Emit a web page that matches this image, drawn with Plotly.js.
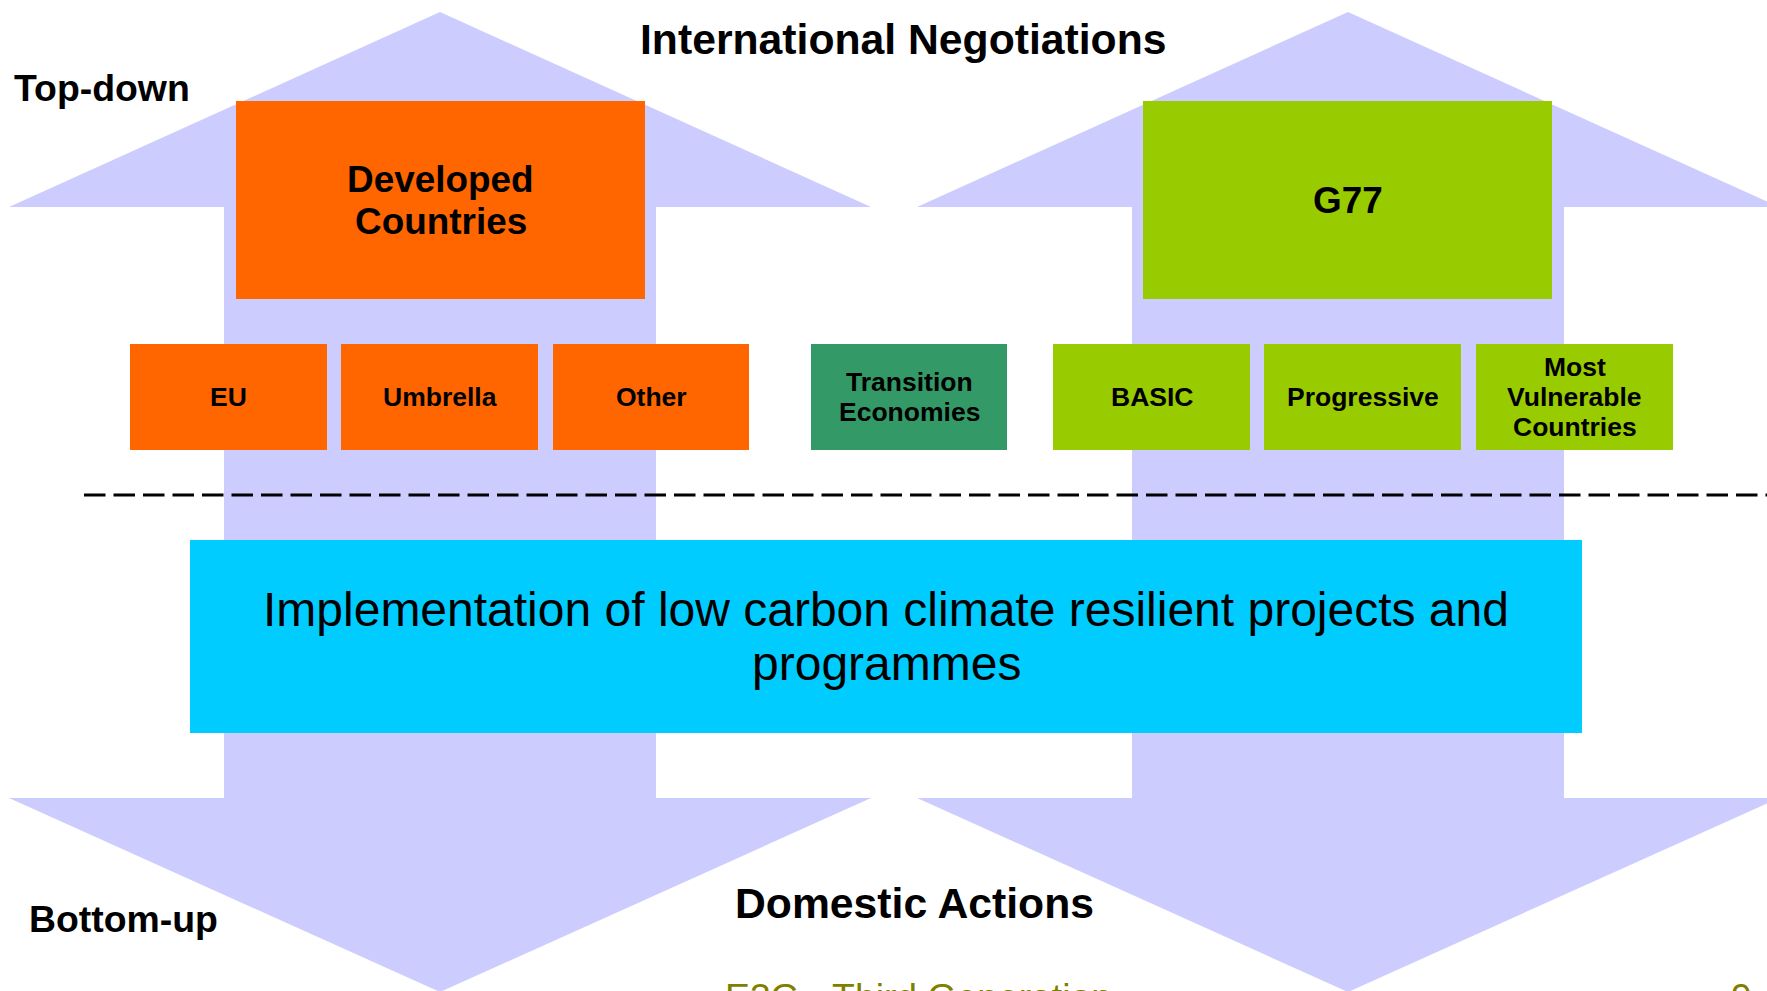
<!DOCTYPE html>
<html>
<head>
<meta charset="utf-8">
<script src="https://cdn.plot.ly/plotly-3.0.1.min.js"></script>
<style>html,body{margin:0;padding:0;background:#fff;overflow:hidden}#chart{width:1767px;height:991px}</style>
</head>
<body>
<div id="chart"></div>
<script>
// ---- content (text / categories) ----
const levelLabels = ['International Negotiations', 'Domestic Actions'];
const directionLabels = ['Top-down', 'Bottom-up'];
const topGroups = [['Developed', 'Countries'], ['G77']];
const topGroupFamily = ['developed', 'g77'];
const subGroups = [['EU'], ['Umbrella'], ['Other'], ['Transition', 'Economies'], ['BASIC'], ['Progressive'], ['Most', 'Vulnerable', 'Countries']];
const subGroupFamily = ['developed', 'developed', 'developed', 'transition', 'g77', 'g77', 'g77'];
const centreText = ['Implementation of low carbon climate resilient projects and', 'programmes'];
const footerText = 'E3G - Third Generation';
const pageNumber = '9';

// ---- styles ----
const familyColour = {developed: '#FF6600', g77: '#99CC00', transition: '#339966'};
const arrowColour = '#CCCCFF';
const centreColour = '#00CCFF';
const FONT = 'Liberation Sans, Arial, Helvetica, sans-serif';

// ---- geometry (layout positions) ----
const W = 1767, H = 991;
const arrowCentres = [440, 1348];
const arrowGeom = {apexTop: 12, wingTop: 207, wingBot: 798, apexBot: 992, wing: 431, shaft: 216};
const topBoxX = [[236, 645], [1143, 1552]];
const topBoxY = [101, 299];
const subBoxX = [[130, 327], [341, 538], [553, 749], [811, 1007], [1053, 1250], [1264, 1461], [1476, 1673]];
const subBoxY = [344, 450];
const centreBox = {x0: 190, x1: 1582, y0: 540, y1: 733};
const dashY = 495, dashX0 = 84;

const shapes = [];
const annotations = [];

// double-headed arrows
arrowCentres.forEach(cx => {
  const g = arrowGeom;
  const p = [
    [cx, g.apexTop], [cx + g.wing, g.wingTop], [cx + g.shaft, g.wingTop], [cx + g.shaft, g.wingBot],
    [cx + g.wing, g.wingBot], [cx, g.apexBot], [cx - g.wing, g.wingBot], [cx - g.shaft, g.wingBot],
    [cx - g.shaft, g.wingTop], [cx - g.wing, g.wingTop]
  ];
  shapes.push({type: 'path', xref: 'x', yref: 'y', path: 'M' + p.map(q => q[0] + ',' + q[1]).join(' L') + ' Z',
    fillcolor: arrowColour, line: {width: 0}});
});

function addLines(lines, cx, cy, size, bold, spacing, colour) {
  const n = lines.length;
  lines.forEach((t, i) => {
    annotations.push({x: cx, y: cy + (i - (n - 1) / 2) * spacing, xref: 'x', yref: 'y',
      text: bold ? '<b>' + t + '</b>' : t, showarrow: false, xanchor: 'center', yanchor: 'middle',
      borderpad: 0, font: {family: FONT, size: size, color: colour || '#000'}});
  });
}

// top group boxes
topGroups.forEach((lines, i) => {
  const [x0, x1] = topBoxX[i];
  shapes.push({type: 'rect', xref: 'x', yref: 'y', x0, x1, y0: topBoxY[0], y1: topBoxY[1],
    fillcolor: familyColour[topGroupFamily[i]], line: {width: 0}});
  addLines(lines, (x0 + x1) / 2, (topBoxY[0] + topBoxY[1]) / 2, 36.9, true, 42);
});

// sub group boxes
subGroups.forEach((lines, i) => {
  const [x0, x1] = subBoxX[i];
  shapes.push({type: 'rect', xref: 'x', yref: 'y', x0, x1, y0: subBoxY[0], y1: subBoxY[1],
    fillcolor: familyColour[subGroupFamily[i]], line: {width: 0}});
  addLines(lines, (x0 + x1) / 2, (subBoxY[0] + subBoxY[1]) / 2, 26.5, true, 30);
});

// dashed separator
shapes.push({type: 'line', xref: 'x', yref: 'y', x0: dashX0, x1: W, y0: dashY, y1: dashY,
  line: {color: '#000', width: 3, dash: '21.5px,8px'}});

// centre box
shapes.push({type: 'rect', xref: 'x', yref: 'y', x0: centreBox.x0, x1: centreBox.x1, y0: centreBox.y0, y1: centreBox.y1,
  fillcolor: centreColour, line: {width: 0}});
addLines(centreText, (centreBox.x0 + centreBox.x1) / 2, (centreBox.y0 + centreBox.y1) / 2, 48, false, 54);

// level labels
addLines([levelLabels[0]], 903, 39, 42.7, true, 0);
addLines([levelLabels[1]], 914, 903, 42.7, true, 0);

// direction labels
annotations.push({x: 13, y: 87.5, xref: 'x', yref: 'y', text: '<b>' + directionLabels[0] + '</b>', showarrow: false,
  xanchor: 'left', yanchor: 'middle', borderpad: 0, font: {family: FONT, size: 37.4, color: '#000'}});
annotations.push({x: 28, y: 919, xref: 'x', yref: 'y', text: '<b>' + directionLabels[1] + '</b>', showarrow: false,
  xanchor: 'left', yanchor: 'middle', borderpad: 0, font: {family: FONT, size: 37.4, color: '#000'}});

// footer (partly below the page edge, as in the original slide)
annotations.push({x: 724, y: 975, xref: 'x', yref: 'y', text: footerText, showarrow: false,
  xanchor: 'left', yanchor: 'top', borderpad: 0, font: {family: FONT, size: 37.3, color: '#808000'}});
annotations.push({x: 1730, y: 975, xref: 'x', yref: 'y', text: pageNumber, showarrow: false,
  xanchor: 'left', yanchor: 'top', borderpad: 0, font: {family: FONT, size: 37.3, color: '#808000'}});

const layout = {
  width: W, height: H,
  margin: {l: 0, r: 0, t: 0, b: 0, pad: 0},
  paper_bgcolor: '#fff', plot_bgcolor: '#fff',
  showlegend: false,
  xaxis: {range: [0, W], visible: false, fixedrange: true},
  yaxis: {range: [H, 0], visible: false, fixedrange: true},
  shapes, annotations
};

Plotly.newPlot('chart', [], layout, {staticPlot: true, displayModeBar: false});
</script>
</body>
</html>
